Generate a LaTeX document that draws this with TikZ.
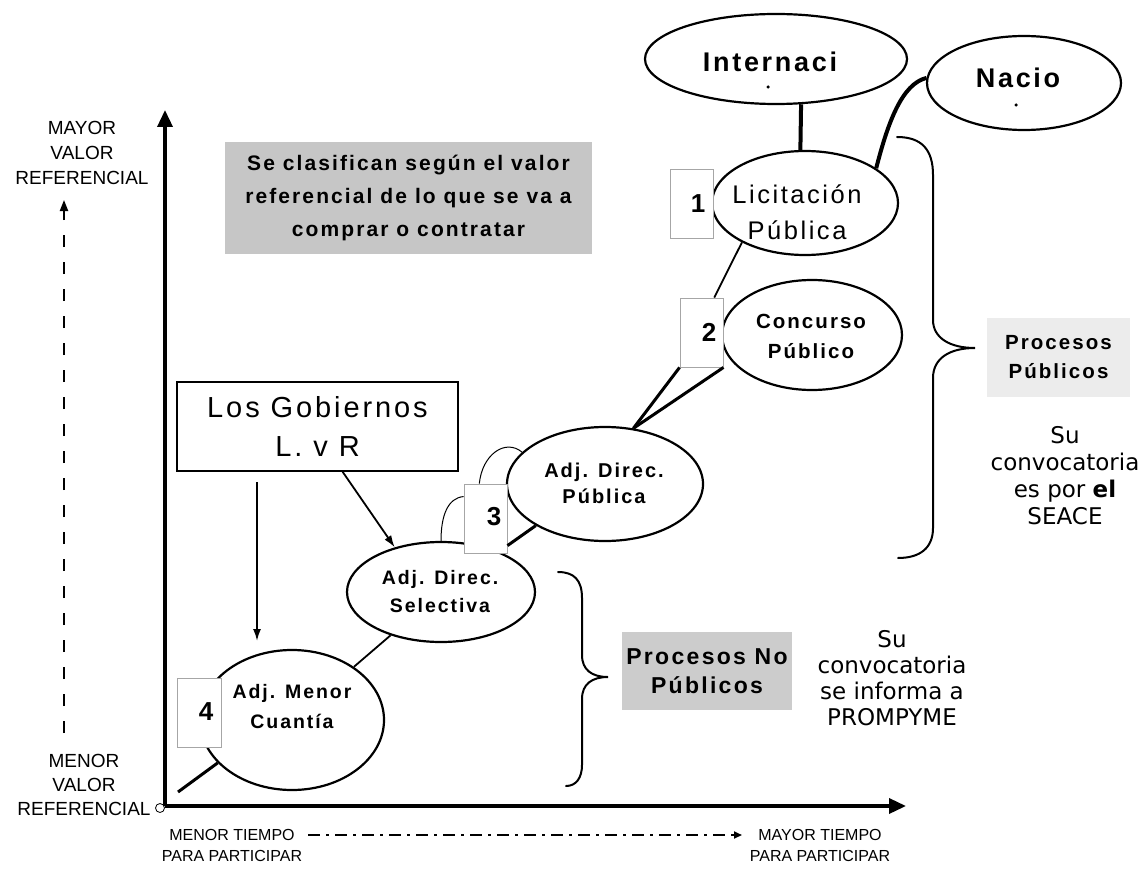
\documentclass[tikz,border=0pt]{standalone}
\usepackage{fontspec}
\setmainfont{Liberation Sans}
\newfontfamily\lsf[LetterSpace=10]{Liberation Sans}
\newfontfamily\dvf{DejaVu Sans}
\usetikzlibrary{shapes.geometric,arrows.meta,calc}
\begin{document}
\begin{tikzpicture}[x=1pt,y=-1pt,
  ell/.style 2 args={ellipse, draw, line width=2.2pt, fill=white, inner sep=0pt, minimum width=#1pt, minimum height=#2pt},
  numbox/.style={rectangle, draw=gray!70, line width=0.9pt, fill=white, minimum width=43pt, minimum height=69pt, inner sep=0pt},
  num/.style={font=\lsf\bfseries\fontsize{26}{26}\selectfont, inner sep=0pt},
  etext/.style 2 args={font=\lsf\bfseries\fontsize{#1}{#2}\selectfont, align=center, inner sep=0pt},
  axis/.style={line width=3.5pt, -{Triangle[length=17pt,width=15pt]}},
  heavy/.style={line width=3pt},
  conn/.style={line width=1.8pt},
  slim/.style={line width=1pt},
  brace/.style={line width=2pt, line cap=round},
  arr/.style={line width=1.8pt, -{Latex[length=12pt,width=8pt]}},
  lab/.style={font=\fontsize{19}{25}\selectfont, align=center, inner sep=0pt},
  blab/.style={font=\fontsize{16}{21}\selectfont, align=center, inner sep=0pt},
  sutext/.style 2 args={font=\dvf\fontsize{#1}{#2}\selectfont, align=center, inner sep=0pt},
  dotmark/.style={circle, fill, inner sep=0pt, minimum size=3.5pt}
]
\useasboundingbox[fill=white] (0,0) rectangle (1142,869);

% axes
\coordinate (O) at (165,806);
\coordinate (ytop) at (165,110);
\coordinate (xend) at (906,806);
\draw[axis] (O) -- (ytop);
\draw[axis] (O) -- (xend);
\node[circle, draw, line width=0.8pt, fill=white, minimum size=9pt, inner sep=0pt] (oc) at (160,808) {};

% left labels
\node[lab] (topl) at (82,153) {MAYOR\\VALOR\\REFERENCIAL};
\node[lab, font=\fontsize{19}{24}\selectfont] (botl) at (84,785) {MENOR\\VALOR\\REFERENCIAL};
\coordinate (dlo) at (64,733);
\coordinate (dhi) at (64,200);
\draw[line width=2pt, dash pattern=on 12pt off 15pt, -{Triangle[length=11pt,width=8pt]}] (dlo) -- (dhi);

% bottom labels
\node[blab] (bl) at (232,845) {MENOR TIEMPO\\PARA PARTICIPAR};
\node[blab] (br) at (820,845) {MAYOR TIEMPO\\PARA PARTICIPAR};
\coordinate (ta) at (308,835);
\coordinate (tb) at (742,835);
\draw[line width=1.8pt, dash pattern=on 12pt off 6pt on 3pt off 6pt, -{Triangle[length=8pt,width=7pt]}] (ta) -- (tb);

% grey note
\node[rectangle, fill=gray!45, minimum width=367pt, minimum height=112pt, inner sep=0pt,
      font=\lsf\bfseries\fontsize{21}{33}\selectfont, align=center] (note) at (408.5,198)
      {Se clasifican según el valor\\referencial de lo que se va a\\comprar o contratar};

% ellipses
\node[ell={262}{90}] (inter) at (776,59) {};
\node[etext={27}{30}] (tinter) at (770,62) {Internaci};
\node[dotmark] (idot) at (768,87) {};

\node[ell={194}{94}] (nacio) at (1024,83) {};
\node[etext={27}{30}] (tnacio) at (1018,78) {Nacio};
\node[dotmark] (ndot) at (1016,105) {};

\node[ell={186}{104}] (lic) at (805,203) {};
\node[font=\lsf\fontsize{25.5}{36}\selectfont, align=center, inner sep=0pt] (tlic) at (797,212) {Licitación\\Pública};

\node[ell={180}{110}] (conc) at (812,335) {};
\node[etext={20.5}{30}] (tconc) at (811,336) {Concurso\\Público};

\node[ell={196}{114}] (adjp) at (605,484) {};
\node[etext={20}{26}] (tadjp) at (604,483) {Adj. Direc.\\Pública};

\node[ell={188}{100}] (adjs) at (441,592) {};
\node[etext={19.5}{28}] (tadjs) at (440,592) {Adj. Direc.\\Selectiva};

\node[ell={184}{140}] (men) at (292,720) {};
\node[etext={19.5}{30}] (tmen) at (292,707) {Adj. Menor\\Cuantía};

% governments box
\node[rectangle, draw, line width=1.3pt, fill=white, minimum width=281pt, minimum height=89pt, inner sep=0pt,
      font=\lsf\fontsize{29}{39}\selectfont, align=center] (gob) at (317.5,426.5) {Los Gobiernos\\L. v R};

% number boxes
\node[numbox] (box1) at (691.5,203.5) {};
\node[num] (n1) at (698,204) {1};
\node[numbox] (box2) at (701.5,332.5) {};
\node[num] (n2) at (709,332) {2};
\node[numbox] (box3) at (485.5,518.5) {};
\node[num] (n3) at (494,517) {3};
\node[numbox, minimum width=44pt] (box4) at (199,712.5) {};
\node[num] (n4) at (206,712) {4};

% connectors
\draw[line width=4pt] (inter.-61) -- (lic.95);
\draw[line width=4pt] (lic.26) .. controls (888,122) and (902,84) .. (nacio.177);
\draw[conn] (lic.212) -- (box2.70);
\draw[heavy] (box2.south west) -- (adjp.63);
\draw[heavy] (box2.south east) -- (adjp.63);
\draw[heavy] (box3.-51) -- (adjp.211);
\draw[slim] (box3.100) .. controls (482,455) and (505,438) .. (adjp.159);
\draw[slim] (adjs.north) .. controls (441,515) and (448,498) .. (box3.135);
\draw[arr] (gob.-61) -- (adjs.136);
\coordinate (gv1) at (257,482);
\coordinate (gv2) at (257,641);
\draw[arr] (gv1) -- (gv2);
\draw[conn] (men) -- (adjs);
\coordinate (tail) at (178,792);
\draw[heavy] (men.210) -- (tail);

% braces
\draw[brace] (897,137) .. controls (922,137) and (933,150) .. (933,175) -- (933,320)
  .. controls (933,338) and (950,348) .. (975,348)
  .. controls (950,348) and (933,358) .. (933,378) -- (933,528)
  .. controls (933,548) and (920,558) .. (898,558);
\draw[brace] (558,572) .. controls (574,572) and (582,580) .. (582,598) -- (582,655)
  .. controls (582,670) and (592,677) .. (608,677)
  .. controls (592,677) and (582,684) .. (582,699) -- (582,765)
  .. controls (582,778) and (576,786) .. (566,786);

% right labels
\node[rectangle, fill=gray!15, minimum width=143pt, minimum height=79pt, inner sep=0pt,
      font=\lsf\bfseries\fontsize{20.5}{29}\selectfont, align=center] (pp) at (1058.5,357.5) {Procesos\\Públicos};
\node[sutext={23}{27}] (su1) at (1065,476) {Su\\convocatoria\\es por \textbf{el}\\SEACE};
\node[rectangle, fill=gray!40, minimum width=170pt, minimum height=78pt, inner sep=0pt,
      font=\lsf\bfseries\fontsize{23}{29}\selectfont, align=center] (pnp) at (707,671) {Procesos No\\Públicos};
\node[sutext={23}{26}] (su2) at (892,678) {Su\\convocatoria\\se informa a\\PROMPYME};
\end{tikzpicture}
\end{document}
